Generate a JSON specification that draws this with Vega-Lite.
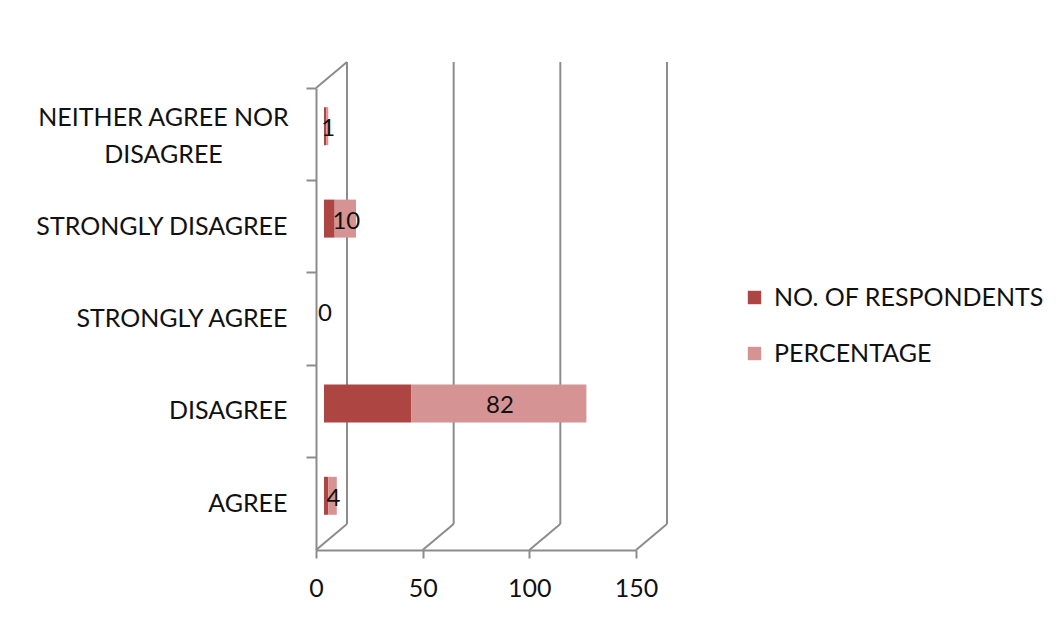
{
  "$schema": "https://vega.github.io/schema/vega-lite/v6.json",
  "width": 320,
  "height": 462,
  "autosize": "none",
  "padding": {"left": 316, "top": 88, "right": 423, "bottom": 87},
  "background": "white",
  "config": {
    "font": "Lato",
    "view": {"stroke": null},
    "axis": {"labelFont": "Lato", "labelColor": "#111", "labelFontSize": 25, "domainColor": "#8c8c8c", "tickColor": "#8c8c8c", "domainWidth": 2, "tickWidth": 2, "labelLimit": 400, "labelFlush": false}
  },
  "resolve": {"scale": {"y": "independent"}},
  "datasets": {
    "grid": [{"g": 0}, {"g": 50}, {"g": 100}, {"g": 150}],
    "survey": [
      {"category": "NEITHER AGREE NOR DISAGREE", "series": "NO. OF RESPONDENTS", "value": 1, "order": 1},
      {"category": "NEITHER AGREE NOR DISAGREE", "series": "PERCENTAGE", "value": 1, "order": 2},
      {"category": "STRONGLY DISAGREE", "series": "NO. OF RESPONDENTS", "value": 5, "order": 1},
      {"category": "STRONGLY DISAGREE", "series": "PERCENTAGE", "value": 10, "order": 2},
      {"category": "STRONGLY AGREE", "series": "NO. OF RESPONDENTS", "value": 0, "order": 1},
      {"category": "STRONGLY AGREE", "series": "PERCENTAGE", "value": 0, "order": 2},
      {"category": "DISAGREE", "series": "NO. OF RESPONDENTS", "value": 41, "order": 1},
      {"category": "DISAGREE", "series": "PERCENTAGE", "value": 82, "order": 2},
      {"category": "AGREE", "series": "NO. OF RESPONDENTS", "value": 2, "order": 1},
      {"category": "AGREE", "series": "PERCENTAGE", "value": 4, "order": 2}
    ]
  },
  "layer": [
    {
      "data": {"name": "grid"},
      "layer": [
        {
          "mark": {"type": "rule", "color": "#8c8c8c", "strokeWidth": 2, "xOffset": 31},
          "encoding": {
            "x": {
              "field": "g", "type": "quantitative", "scale": {"domain": [0, 150], "nice": false},
              "axis": {"title": null, "values": [0, 50, 100, 150], "tickSize": 8, "labelPadding": 18, "grid": false, "labelFlush": false}
            },
            "y": {"datum": 26, "type": "quantitative", "scale": {"domain": [0, 462], "nice": false, "zero": false}, "axis": null},
            "y2": {"datum": 488}
          }
        },
        {
          "mark": {"type": "rule", "color": "#8c8c8c", "strokeWidth": 2, "x2Offset": 31},
          "encoding": {
            "x": {"field": "g", "type": "quantitative"},
            "x2": {"field": "g"},
            "y": {"datum": 0, "type": "quantitative", "scale": {"domain": [0, 462], "nice": false, "zero": false}, "axis": null},
            "y2": {"datum": 26}
          }
        },
        {
          "transform": [{"filter": "datum.g == 0"}],
          "mark": {"type": "rule", "color": "#8c8c8c", "strokeWidth": 2, "x2Offset": 31},
          "encoding": {
            "x": {"field": "g", "type": "quantitative"},
            "x2": {"field": "g"},
            "y": {"datum": 462, "type": "quantitative", "scale": {"domain": [0, 462], "nice": false, "zero": false}, "axis": null},
            "y2": {"datum": 488}
          }
        }
      ]
    },
    {
      "data": {"name": "survey"},
      "layer": [
        {
          "mark": {"type": "bar", "size": 38, "xOffset": 8, "yOffset": -8},
          "encoding": {
            "y": {
              "field": "category", "type": "nominal",
              "sort": ["NEITHER AGREE NOR DISAGREE", "STRONGLY DISAGREE", "STRONGLY AGREE", "DISAGREE", "AGREE"],
              "scale": {"paddingInner": 0, "paddingOuter": 0},
              "axis": {
                "title": null, "tickSize": 10, "bandPosition": 0,
                "labelPadding": {"condition": {"test": "datum.value == 'NEITHER AGREE NOR DISAGREE'", "value": 143}, "value": 19},
                "labelAlign": {"condition": {"test": "datum.value == 'NEITHER AGREE NOR DISAGREE'", "value": "center"}, "value": "right"},
                "labelOffset": {"condition": {"test": "datum.value == 'NEITHER AGREE NOR DISAGREE'", "value": -16}, "value": 0},
                "labelExpr": "datum.label == 'NEITHER AGREE NOR DISAGREE' ? ['NEITHER AGREE NOR', 'DISAGREE'] : datum.label",
                "labelLineHeight": 37
              }
            },
            "x": {
              "field": "value", "type": "quantitative", "stack": "zero",
              "scale": {"domain": [0, 150], "nice": false}
            },
            "color": {
              "field": "series", "type": "nominal",
              "scale": {"domain": ["NO. OF RESPONDENTS", "PERCENTAGE"], "range": ["#AD4542", "#D59493"]},
              "legend": {
                "title": null, "orient": "none", "legendX": 426, "legendY": 197,
                "symbolType": "square", "symbolSize": 180, "symbolStrokeWidth": 0, "symbolOpacity": 1,
                "labelFontSize": 25, "labelFont": "Lato", "labelColor": "#111", "rowPadding": 30, "labelOffset": 7, "labelLimit": 400
              }
            },
            "order": {"field": "order", "type": "quantitative"}
          }
        },
        {
          "transform": [
            {"stack": "value", "groupby": ["category"], "sort": [{"field": "order"}], "as": ["v0", "v1"]},
            {"filter": "datum.series == 'PERCENTAGE'"},
            {"calculate": "(datum.v0 + datum.v1) / 2", "as": "mid"}
          ],
          "mark": {"type": "text", "fontSize": 24, "font": "Lato", "color": "#111", "xOffset": 9, "yOffset": -5},
          "encoding": {
            "y": {"field": "category", "type": "nominal", "sort": ["NEITHER AGREE NOR DISAGREE", "STRONGLY DISAGREE", "STRONGLY AGREE", "DISAGREE", "AGREE"]},
            "x": {"field": "mid", "type": "quantitative"},
            "text": {"field": "value", "type": "quantitative"}
          }
        }
      ]
    }
  ]
}
